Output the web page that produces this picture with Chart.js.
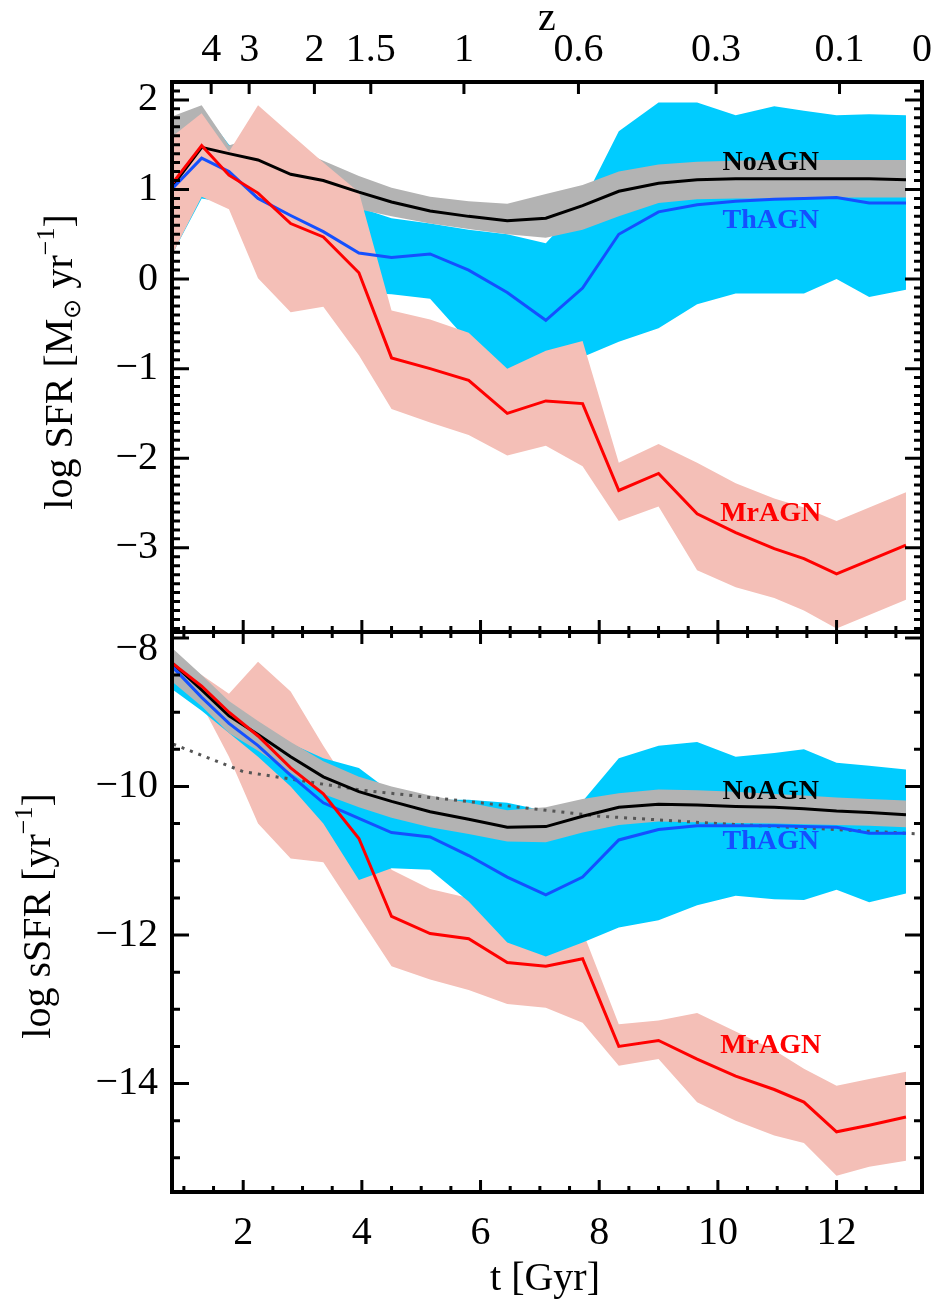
<!DOCTYPE html>
<html>
<head>
<meta charset="utf-8">
<script src="https://cdn.jsdelivr.net/npm/chart.js@4.4.1/dist/chart.umd.min.js"></script>
<style>
  html, body { margin: 0; padding: 0; background: #fff; }
  #wrap { position: relative; width: 936px; height: 1300px; }
  canvas { position: absolute; left: 0; }
  #sfr { top: 0; }
  #ssfr { top: 622px; }
</style>
</head>
<body>
<div id="wrap">
  <canvas id="sfr" width="936" height="645"></canvas>
  <canvas id="ssfr" width="936" height="678"></canvas>
</div>
<script>
// snapshot times [Gyr]
const times = [0.82, 1.3, 1.76, 2.25, 2.8, 3.35, 3.95, 4.5, 5.15, 5.8, 6.45, 7.1, 7.72, 8.33, 9.0, 9.65, 10.3, 10.95, 11.45, 12.0, 12.55, 13.17];

// top panel: log SFR
const noAgnSfr   = [1.05, 1.47, 1.40, 1.33, 1.17, 1.10, 0.97, 0.86, 0.76, 0.70, 0.65, 0.68, 0.82, 0.98, 1.07, 1.11, 1.12, 1.12, 1.12, 1.12, 1.12, 1.11];
const noAgnSfrHi = [1.82, 1.94, 1.49, 1.60, 1.48, 1.32, 1.15, 1.02, 0.92, 0.87, 0.84, 0.95, 1.05, 1.20, 1.28, 1.31, 1.32, 1.33, 1.33, 1.33, 1.33, 1.33];
const noAgnSfrLo = [0.28, 1.00, 1.05, 1.02, 0.88, 0.85, 0.78, 0.70, 0.62, 0.56, 0.50, 0.46, 0.55, 0.70, 0.85, 0.89, 0.90, 0.90, 0.91, 0.91, 0.91, 0.91];
const thAgnSfr   = [1.02, 1.35, 1.20, 0.90, 0.71, 0.53, 0.29, 0.24, 0.28, 0.10, -0.15, -0.46, -0.10, 0.50, 0.75, 0.83, 0.87, 0.89, 0.90, 0.91, 0.85, 0.85];
const thAgnSfrHi = [1.60, 1.90, 1.50, 1.40, 1.20, 1.00, 0.80, 0.68, 0.62, 0.55, 0.50, 0.40, 0.85, 1.65, 1.97, 1.97, 1.83, 1.93, 1.88, 1.83, 1.84, 1.83];
const thAgnSfrLo = [0.30, 0.90, 0.85, 0.50, 0.20, 0.00, -0.15, -0.17, -0.22, -0.70, -1.05, -0.90, -0.87, -0.70, -0.55, -0.28, -0.16, -0.16, -0.16, 0.00, -0.20, -0.12];
const mrAgnSfr   = [1.08, 1.49, 1.16, 0.96, 0.62, 0.47, 0.07, -0.88, -1.00, -1.13, -1.50, -1.36, -1.39, -2.36, -2.17, -2.62, -2.83, -3.01, -3.12, -3.29, -3.14, -2.97];
const mrAgnSfrHi = [1.60, 1.85, 1.42, 1.94, 1.62, 1.30, 0.97, -0.35, -0.45, -0.60, -1.00, -0.80, -0.69, -2.05, -1.84, -2.05, -2.28, -2.45, -2.55, -2.70, -2.55, -2.38];
const mrAgnSfrLo = [0.30, 0.92, 0.78, 0.01, -0.37, -0.31, -0.85, -1.45, -1.60, -1.74, -1.97, -1.86, -2.09, -2.70, -2.54, -3.25, -3.44, -3.56, -3.70, -3.90, -3.75, -3.58];

// bottom panel: log sSFR
const noAgnSsfr   = [-8.35, -8.70, -9.05, -9.30, -9.60, -9.87, -10.07, -10.20, -10.34, -10.44, -10.55, -10.54, -10.40, -10.28, -10.24, -10.25, -10.27, -10.28, -10.30, -10.33, -10.35, -10.38];
const noAgnSsfrHi = [-8.15, -8.50, -8.85, -9.12, -9.40, -9.66, -9.87, -10.00, -10.12, -10.22, -10.32, -10.28, -10.17, -10.09, -10.04, -10.05, -10.07, -10.10, -10.12, -10.15, -10.17, -10.19];
const noAgnSsfrLo = [-8.60, -8.92, -9.28, -9.52, -9.82, -10.10, -10.28, -10.42, -10.55, -10.64, -10.74, -10.75, -10.62, -10.52, -10.47, -10.48, -10.49, -10.50, -10.51, -10.52, -10.53, -10.55];
const thAgnSsfr   = [-8.40, -8.80, -9.15, -9.45, -9.85, -10.22, -10.43, -10.62, -10.68, -10.93, -11.22, -11.46, -11.22, -10.72, -10.58, -10.53, -10.53, -10.53, -10.54, -10.55, -10.63, -10.63];
const thAgnSsfrHi = [-8.30, -8.62, -8.95, -9.20, -9.42, -9.62, -9.75, -10.08, -10.18, -10.18, -10.22, -10.33, -10.20, -9.62, -9.45, -9.40, -9.60, -9.55, -9.50, -9.68, -9.72, -9.77];
const thAgnSsfrLo = [-8.70, -8.98, -9.28, -9.60, -10.00, -10.50, -11.26, -11.10, -11.12, -11.55, -12.10, -12.29, -12.10, -11.90, -11.80, -11.60, -11.47, -11.52, -11.53, -11.39, -11.56, -11.44];
const mrAgnSsfr   = [-8.35, -8.65, -9.00, -9.32, -9.75, -10.10, -10.70, -11.75, -11.98, -12.05, -12.37, -12.42, -12.32, -13.50, -13.42, -13.67, -13.90, -14.08, -14.25, -14.65, -14.56, -14.45];
const mrAgnSsfrHi = [-8.25, -8.50, -8.75, -8.32, -8.72, -9.45, -10.20, -11.12, -11.38, -11.50, -11.80, -11.90, -11.95, -13.20, -13.15, -13.05, -13.30, -13.55, -13.80, -14.03, -13.94, -13.84];
const mrAgnSsfrLo = [-8.50, -8.90, -9.60, -10.50, -10.97, -11.02, -11.75, -12.42, -12.60, -12.74, -12.93, -12.98, -13.18, -13.76, -13.67, -14.25, -14.50, -14.70, -14.80, -15.24, -15.12, -15.04];

// dotted reference relation in the sSFR panel
const msTimes = [0.82, 2, 4, 6, 8, 10, 12, 13.44];
const msSsfr  = [-9.43, -9.80, -10.05, -10.22, -10.40, -10.50, -10.58, -10.64];

// axes
const tTicks = [2, 4, 6, 8, 10, 12];
const zLabels = ['4', '3', '2', '1.5', '1', '0.6', '0.3', '0.1', '0'];
const zTimes  = [1.46, 2.10, 3.20, 4.15, 5.72, 7.65, 9.97, 12.05, 13.44];
const sfrTicks = [-3, -2, -1, 0, 1, 2];
const ssfrTicks = [-14, -12, -10, -8];

// curve names written inside the panels (t position, value)
const nameT = 10.89;
const namesSfr  = [['NoAGN', 1.30, '#000'], ['ThAGN', 0.655, '#1450ff'], ['MrAGN', -2.62, '#ff0000']];
const namesSsfr = [['NoAGN', -10.07, '#000'], ['ThAGN', -10.75, '#1450ff'], ['MrAGN', -13.49, '#ff0000']];

const FONT = "'Liberation Serif', 'Times New Roman', serif";
Chart.defaults.font.family = FONT;
Chart.defaults.color = '#000';

const GRAY = '#b3b3b3', CYAN = '#00ccff', PINK = '#f4bfb7';
const BLUE = '#1450ff', RED = '#ff0000';

const pts = (xs, ys) => xs.map((x, i) => ({x: x, y: ys[i]}));
const minus = v => v < 0 ? '\u2212' + Math.abs(v) : String(v);

function band(hi, lo, color, order) {
  return [
    {data: pts(times, hi), borderColor: 'transparent', borderWidth: 1, pointRadius: 0, fill: false, order: order},
    {data: pts(times, lo), borderColor: 'transparent', borderWidth: 1, pointRadius: 0, backgroundColor: color, fill: '-1', order: order}
  ];
}
function line(ys, color, order) {
  return {data: pts(times, ys), borderColor: color, borderWidth: 3, pointRadius: 0, fill: false, order: order};
}

function vtitle(ctx, x, yc, parts) {
  ctx.save();
  ctx.translate(x, yc);
  ctx.rotate(-Math.PI / 2);
  let w = 0;
  parts.forEach(p => { ctx.font = p[1] + 'px ' + FONT; w += ctx.measureText(p[0]).width; });
  let cx = -w / 2;
  ctx.textAlign = 'left';
  ctx.textBaseline = 'alphabetic';
  parts.forEach(p => {
    ctx.font = p[1] + 'px ' + FONT;
    ctx.fillText(p[0], cx, -p[2]);
    cx += ctx.measureText(p[0]).width;
  });
  ctx.restore();
}

// box, inward ticks, curve names and titles
function framePlugin(p) {
  return {
    id: 'frame',
    afterDraw(chart) {
      const ctx = chart.ctx, a = chart.chartArea;
      const xs = chart.scales.x, ys = chart.scales.y;
      ctx.save();
      ctx.strokeStyle = '#000';
      ctx.lineWidth = 3;
      ctx.beginPath();
      for (let k = Math.ceil(ys.min / p.yMinor - 1e-6); k * p.yMinor <= ys.max + 1e-6; k++) {
        const v = Math.round(k * p.yMinor * 1000) / 1000;
        const major = Math.abs(v / p.yMajor - Math.round(v / p.yMajor)) < 1e-6;
        const len = major ? 17 : 8;
        const py = ys.getPixelForValue(v);
        ctx.moveTo(a.left, py); ctx.lineTo(a.left + len, py);
        ctx.moveTo(a.right, py); ctx.lineTo(a.right - len, py);
      }
      for (let k = Math.ceil(xs.min / 0.5); k * 0.5 <= xs.max; k++) {
        const v = k * 0.5;
        const len = (v % 2 === 0) ? 12 : 6;
        const px = xs.getPixelForValue(v);
        ctx.moveTo(px, a.bottom); ctx.lineTo(px, a.bottom - len);
        if (!p.zTop) { ctx.moveTo(px, a.top); ctx.lineTo(px, a.top + len); }
      }
      if (p.zTop) {
        zTimes.forEach(v => {
          const px = xs.getPixelForValue(v);
          ctx.moveTo(px, a.top); ctx.lineTo(px, a.top + 12);
        });
      }
      ctx.stroke();
      ctx.lineWidth = 4;
      ctx.strokeRect(a.left, a.top, a.right - a.left, a.bottom - a.top);

      ctx.font = 'bold 28px ' + FONT;
      ctx.textAlign = 'center';
      ctx.textBaseline = 'middle';
      p.names.forEach(n => {
        ctx.fillStyle = n[2];
        ctx.fillText(n[0], xs.getPixelForValue(nameT), ys.getPixelForValue(n[1]));
      });
      ctx.fillStyle = '#000';
      vtitle(ctx, p.titleX, p.titleY, p.title);
      ctx.font = '40px ' + FONT;
      ctx.textAlign = 'center';
      ctx.textBaseline = 'alphabetic';
      if (p.zTop) {
        ctx.fillText('z', 547, 30);
      } else {
        ctx.fillText('t [Gyr]', 545, 668);
        // top label of this panel sits a little below its tick, clear of the frame
        ctx.textAlign = 'right';
        ctx.textBaseline = 'middle';
        ctx.fillText(minus(ssfrTicks[ssfrTicks.length - 1]), a.left - 14, ys.getPixelForValue(ssfrTicks[ssfrTicks.length - 1]) + 12);
      }
      ctx.restore();
    }
  };
}

const yTickOpts = (list, skipTop) => ({
  afterBuildTicks: s => { s.ticks = list.map(v => ({value: v})); },
  afterFit: s => { s.width = 172; s.paddingTop = 0; s.paddingBottom = 0; },
  grid: {display: false, drawTicks: false},
  border: {display: false},
  ticks: {font: {size: 40}, padding: 14, autoSkip: false,
          callback: (v, i) => (skipTop && i === list.length - 1) ? '' : minus(v)}
});

// top panel
new Chart(document.getElementById('sfr'), {
  type: 'line',
  data: {
    datasets: [
      line(mrAgnSfr, RED, 0),
      line(thAgnSfr, BLUE, 1),
      line(noAgnSfr, '#000', 2),
      ...band(mrAgnSfrHi, mrAgnSfrLo, PINK, 3),
      ...band(noAgnSfrHi, noAgnSfrLo, GRAY, 4),
      ...band(thAgnSfrHi, thAgnSfrLo, CYAN, 5)
    ]
  },
  options: {
    responsive: false,
    animation: false,
    layout: {padding: {left: 0, right: 14, top: 0, bottom: 13}},
    elements: {line: {tension: 0}},
    plugins: {legend: {display: false}, tooltip: {enabled: false}},
    scales: {
      x: {type: 'linear', min: 0.8, max: 13.44, display: false},
      xz: {
        type: 'linear', position: 'top', min: 0.8, max: 13.44,
        afterBuildTicks: s => { s.ticks = zTimes.map(v => ({value: v})); },
        afterFit: s => { s.height = 82; s.paddingLeft = 0; s.paddingRight = 0; },
        grid: {display: false, drawTicks: false},
        border: {display: false},
        ticks: {font: {size: 40}, padding: 8, autoSkip: false, maxRotation: 0, callback: (v, i) => zLabels[i]}
      },
      y: Object.assign({min: -3.94, max: 2.2}, yTickOpts(sfrTicks, false))
    }
  },
  plugins: [framePlugin({
    yMinor: 0.1, yMajor: 1, zTop: true, names: namesSfr,
    titleX: 72, titleY: 362,
    title: [['log SFR [M', 40, 0], ['\u2299', 24, -8], [' yr', 40, 0], ['\u22121', 26, 18], [']', 40, 0]]
  })]
});

// bottom panel
new Chart(document.getElementById('ssfr'), {
  type: 'line',
  data: {
    datasets: [
      line(mrAgnSsfr, RED, 0),
      line(thAgnSsfr, BLUE, 1),
      line(noAgnSsfr, '#000', 2),
      {data: pts(msTimes, msSsfr), borderColor: '#555', borderWidth: 3, borderDash: [3, 6], pointRadius: 0, fill: false, order: 3},
      ...band(noAgnSsfrHi, noAgnSsfrLo, GRAY, 4),
      ...band(thAgnSsfrHi, thAgnSsfrLo, CYAN, 5),
      ...band(mrAgnSsfrHi, mrAgnSsfrLo, PINK, 6)
    ]
  },
  options: {
    responsive: false,
    animation: false,
    layout: {padding: {left: 0, right: 14, top: 10, bottom: 0}},
    elements: {line: {tension: 0}},
    plugins: {legend: {display: false}, tooltip: {enabled: false}},
    scales: {
      x: {
        type: 'linear', position: 'bottom', min: 0.8, max: 13.44,
        afterBuildTicks: s => { s.ticks = tTicks.map(v => ({value: v})); },
        afterFit: s => { s.height = 108; s.paddingLeft = 0; s.paddingRight = 0; },
        grid: {display: false, drawTicks: false},
        border: {display: false},
        ticks: {font: {size: 40}, padding: 17, autoSkip: false, maxRotation: 0}
      },
      y: Object.assign({min: -15.46, max: -7.92}, yTickOpts(ssfrTicks, true))
    }
  },
  plugins: [framePlugin({
    yMinor: 0.5, yMajor: 2, zTop: false, names: namesSsfr,
    titleX: 50, titleY: 294,
    title: [['log sSFR [yr', 40, 0], ['\u22121', 26, 18], [']', 40, 0]]
  })]
});
</script>
</body>
</html>
